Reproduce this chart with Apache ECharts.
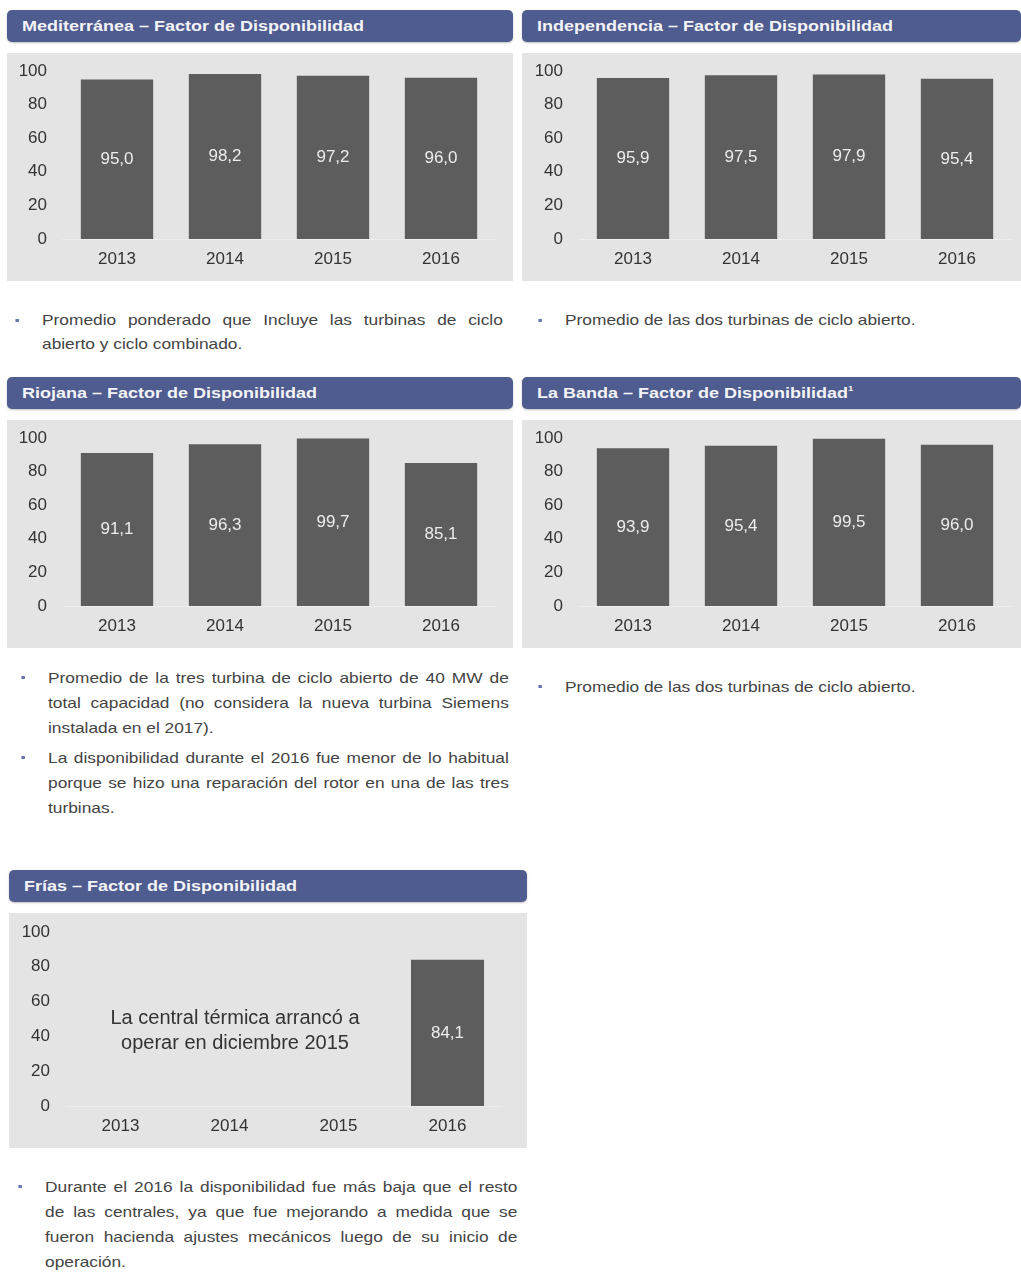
<!DOCTYPE html>
<html>
<head>
<meta charset="utf-8">
<script src="https://cdn.jsdelivr.net/npm/echarts@6/dist/echarts.min.js"></script>
<style>
  html, body { margin: 0; padding: 0; background: #fff; }
  body { width: 1021px; height: 1272px; position: relative; overflow: hidden;
         font-family: "Liberation Sans", Arial, sans-serif; }
  .hdr { position: absolute; height: 32px; background: #4f5c8f; border-radius: 5px;
         box-shadow: 0 1px 2px rgba(0,0,0,0.25); color: #f4f4f8; font-weight: bold;
         font-size: 15px; line-height: 32px; box-sizing: border-box; padding-left: 15px; }
  .hdr .t { display: inline-block; transform: scaleX(1.2); transform-origin: 0 50%; }
  .hdr sup { font-size: 8px; line-height: 0; position: relative; top: -1px; }
  .chart { position: absolute; }
  /* the source text is a bit stretched sideways */
  .note { position: absolute; color: #444; font-size: 15px;
          transform: scaleX(1.155); transform-origin: 0 0; }
  .note .p { position: relative; }
  .note .p::before { content: ""; position: absolute; width: 3px; height: 3px;
         background: #6574ad; top: 11px; left: -23px; }
  .note .l { text-align: justify; text-align-last: justify; white-space: nowrap; }
  .note .l.last { text-align-last: left; }
</style>
</head>
<body>
<div class="hdr" style="left:7px;top:10px;width:506px;"><span class="t">Mediterránea – Factor de Disponibilidad</span></div>
<div class="hdr" style="left:522px;top:10px;width:499px;"><span class="t">Independencia – Factor de Disponibilidad</span></div>
<div class="hdr" style="left:7px;top:377px;width:506px;"><span class="t">Riojana – Factor de Disponibilidad</span></div>
<div class="hdr" style="left:522px;top:377px;width:499px;"><span class="t">La Banda – Factor de Disponibilidad<sup>1</sup></span></div>
<div class="hdr" style="left:9px;top:870px;width:518px;"><span class="t">Frías – Factor de Disponibilidad</span></div>

<div id="c1" class="chart" style="left:7px;top:53px;width:506px;height:228px;"></div>
<div id="c2" class="chart" style="left:522px;top:53px;width:499px;height:228px;"></div>
<div id="c3" class="chart" style="left:7px;top:420px;width:506px;height:228px;"></div>
<div id="c4" class="chart" style="left:522px;top:420px;width:499px;height:228px;"></div>
<div id="c5" class="chart" style="left:9px;top:913px;width:518px;height:235px;"></div>

<div class="note" style="left:42px;top:308px;width:399px;line-height:24px;">
  <div class="p">
    <div class="l">Promedio ponderado que Incluye las turbinas de ciclo</div>
    <div class="l last">abierto y ciclo combinado.</div>
  </div>
</div>
<div class="note" style="left:565px;top:308px;width:390px;line-height:24px;">
  <div class="p"><div class="l last">Promedio de las dos turbinas de ciclo abierto.</div></div>
</div>
<div class="note" style="left:48px;top:665px;width:399px;line-height:25px;">
  <div class="p">
    <div class="l">Promedio de la tres turbina de ciclo abierto de 40 MW de</div>
    <div class="l">total capacidad (no considera la nueva turbina Siemens</div>
    <div class="l last">instalada en el 2017).</div>
  </div>
  <div class="p" style="margin-top:5px;">
    <div class="l">La disponibilidad durante el 2016 fue menor de lo habitual</div>
    <div class="l">porque se hizo una reparación del rotor en una de las tres</div>
    <div class="l last">turbinas.</div>
  </div>
</div>
<div class="note" style="left:565px;top:674px;width:390px;line-height:25px;">
  <div class="p"><div class="l last">Promedio de las dos turbinas de ciclo abierto.</div></div>
</div>
<div class="note" style="left:45px;top:1174px;width:409px;line-height:25px;">
  <div class="p">
    <div class="l">Durante el 2016 la disponibilidad fue más baja que el resto</div>
    <div class="l">de las centrales, ya que fue mejorando a medida que se</div>
    <div class="l">fueron hacienda ajustes mecánicos luego de su inicio de</div>
    <div class="l last">operación.</div>
  </div>
</div>

<script>
  // datos
  const years = ['2013', '2014', '2015', '2016'];
  const mediterranea = [95.0, 98.2, 97.2, 96.0];
  const independencia = [95.9, 97.5, 97.9, 95.4];
  const riojana = [91.1, 96.3, 99.7, 85.1];
  const laBanda = [93.9, 95.4, 99.5, 96.0];
  const frias = ['-', '-', '-', 84.1];
  const friasNote = ['La central térmica arrancó a', 'operar en diciembre 2015'];

  const FONT = '"Liberation Sans", Arial, sans-serif';

  function makeChart(id, data, grid, graphic) {
    const chart = echarts.init(document.getElementById(id));
    chart.setOption({
      backgroundColor: '#e4e4e4',
      animation: false,
      textStyle: { fontFamily: FONT },
      grid: grid,
      xAxis: {
        type: 'category',
        data: years,
        axisTick: { show: false },
        axisLine: { show: true, lineStyle: { color: '#eeeeee', width: 1 } },
        axisLabel: { color: '#333', fontSize: 17, margin: 12 },
      },
      yAxis: {
        type: 'value',
        min: 0,
        max: 100,
        interval: 20,
        splitLine: { show: false },
        axisLine: { show: false },
        axisTick: { show: false },
        axisLabel: { color: '#333', fontSize: 17, margin: 16 },
      },
      graphic: graphic || [],
      series: [
        {
          type: 'bar',
          data: data,
          barCategoryGap: '33%',
          itemStyle: { color: '#5d5d5d' },
          label: {
            show: true,
            position: 'inside',
            color: '#ececec',
            fontSize: 17,
            formatter: function (p) {
              return p.value.toFixed(1).replace('.', ',');
            },
          },
        },
      ],
    });
    return chart;
  }

  makeChart('c1', mediterranea, { left: 56, width: 432, top: 18, height: 168 });
  makeChart('c2', independencia, { left: 57, width: 432, top: 18, height: 168 });
  makeChart('c3', riojana, { left: 56, width: 432, top: 18, height: 168 });
  makeChart('c4', laBanda, { left: 57, width: 432, top: 18, height: 168 });
  makeChart('c5', frias, { left: 57, width: 436, top: 19, height: 174 }, [
    {
      type: 'text',
      x: 226,
      y: 93,
      style: {
        text: friasNote.join('\n'),
        fill: '#333',
        fontSize: 20,
        lineHeight: 25,
        align: 'center',
        verticalAlign: 'top',
        fontFamily: FONT,
      },
    },
  ]);
</script>
</body>
</html>
